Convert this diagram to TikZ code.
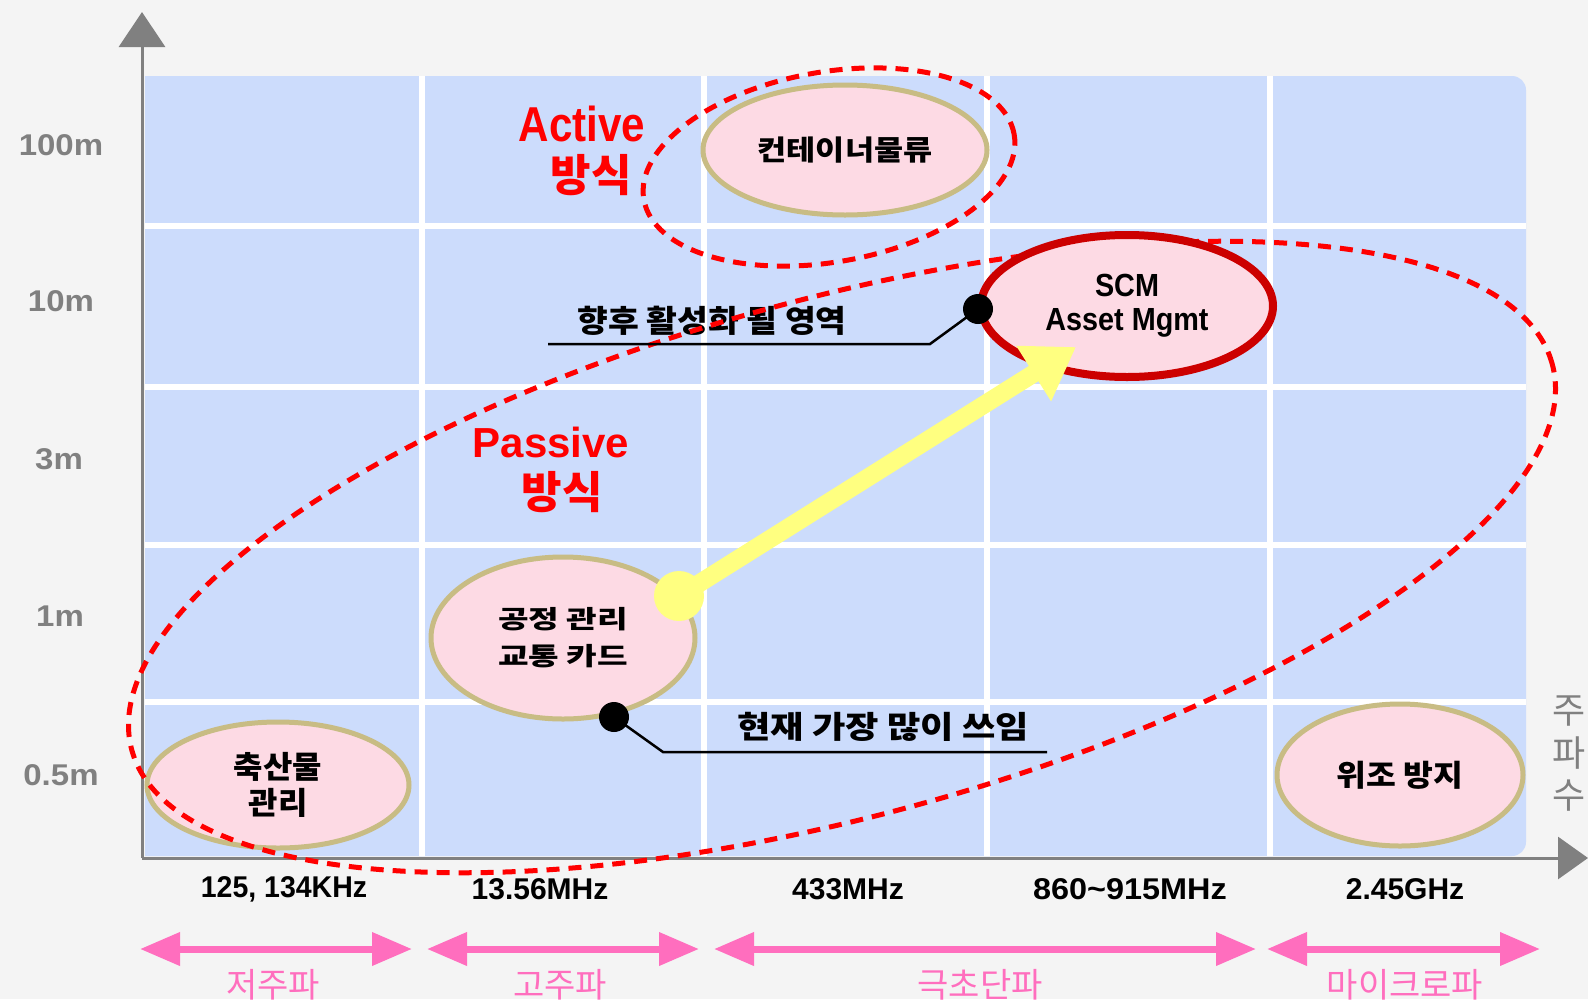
\documentclass[tikz,border=0pt]{standalone}
\usepackage{graphicx}
\usepackage{fontspec}
\setmainfont{Liberation Sans}
\newfontfamily\kr{Noto Sans CJK KR}
\usetikzlibrary{shapes.geometric,arrows.meta}
\definecolor{bg}{HTML}{F4F4F4}
\definecolor{panelblue}{HTML}{CCDCFC}
\definecolor{pinkfill}{HTML}{FDDAE4}
\definecolor{tanline}{HTML}{C8BC84}
\definecolor{scmred}{HTML}{CC0000}
\definecolor{dashred}{HTML}{FF0000}
\definecolor{axisgray}{HTML}{808080}
\definecolor{bandpink}{HTML}{FF6EBE}
\definecolor{yel}{HTML}{FFFF80}
\newcommand{\hs}[2]{\scalebox{#1}[1]{#2}}
\tikzset{
  pinkell/.style={ellipse, draw=tanline, fill=pinkfill, line width=5pt, inner sep=0pt, align=center},
  dashell/.style={ellipse, draw=dashred, line width=5pt, dash pattern=on 13pt off 9pt, inner sep=0pt},
  gridline/.style={white, line width=6pt},
  axisline/.style={axisgray, line width=3pt},
  ylab/.style={text=axisgray, font=\bfseries\fontsize{30}{36}\selectfont, inner sep=0pt},
  xlab/.style={text=black, font=\bfseries\fontsize{30}{36}\selectfont, inner sep=0pt},
  bandarrow/.style={bandpink, line width=7pt, {Triangle[length=40pt,width=32pt]}-{Triangle[length=40pt,width=32pt]}},
  bandlab/.style={text=bandpink, font=\kr\fontsize{34}{40}\selectfont, inner sep=0pt},
  redlab/.style={text=dashred, inner sep=0pt},
  callout/.style={black, line width=2.5pt},
  calltext/.style={text=black, font=\kr\bfseries\fontsize{31}{36}\selectfont, inner sep=0pt},
  dot/.style={circle, fill=black, minimum size=30pt, inner sep=0pt}
}
\begin{document}
\begin{tikzpicture}[x=1pt,y=-1pt]
\useasboundingbox (0,0) rectangle (1588,999);
\fill[bg] (0,0) rectangle (1588,999);
% panel
\fill[panelblue] (145,856) -- (145,76) -- (1400,76) [rounded corners=14pt] -- (1526,76) -- (1526,856) [sharp corners] -- (1400,856) -- cycle;
% grid
\foreach \gx in {422,704,987,1270} \draw[gridline] (\gx,76) -- (\gx,856);
\foreach \gy in {226,387,545,702} \draw[gridline] (145,\gy) -- (1526,\gy);
% axes
\coordinate (origin) at (142,858);
\coordinate (ytip) at (142,12);
\coordinate (xtip) at (1588,858);
\draw[axisline, -{Triangle[length=35pt,width=46pt]}] (origin) -- (ytip);
\draw[axisline, -{Triangle[length=30pt,width=42pt]}] (origin) -- (xtip);
% y labels
\node[ylab] (y100) at (61,145) {\hs{1.1}{100m}};
\node[ylab] (y10) at (61,301) {\hs{1.1}{10m}};
\node[ylab] (y3) at (59,459) {\hs{1.1}{3m}};
\node[ylab] (y1) at (60,616) {\hs{1.1}{1m}};
\node[ylab] (y05) at (61,775) {\hs{1.1}{0.5m}};
% axis title
\node[text=axisgray, font=\kr\fontsize{36}{42.5}\selectfont, align=center, inner sep=0pt] (ftitle) at (1569,754) {주\\파\\수};
% x labels
\node[xlab] (x1) at (284,889) {\hs{0.95}{125, 134KHz}};
\node[xlab] (x2) at (540,889) {13.56MHz};
\node[xlab] (x3) at (848,889) {433MHz};
\node[xlab] (x4) at (1130,889) {\hs{1.08}{860\char`~915MHz}};
\node[xlab] (x5) at (1405,889) {2.45GHz};
% band arrows
\coordinate (b1l) at (140,949); \coordinate (b1r) at (412,949);
\coordinate (b2l) at (427,949); \coordinate (b2r) at (699,949);
\coordinate (b3l) at (714,949); \coordinate (b3r) at (1256,949);
\coordinate (b4l) at (1267,949); \coordinate (b4r) at (1540,949);
\draw[bandarrow] (b1l) -- (b1r);
\draw[bandarrow] (b2l) -- (b2r);
\draw[bandarrow] (b3l) -- (b3r);
\draw[bandarrow] (b4l) -- (b4r);
\node[bandlab] (l1) at (273,985) {저주파};
\node[bandlab] (l2) at (560,985) {고주파};
\node[bandlab] (l3) at (980,985) {극초단파};
\node[bandlab] (l4) at (1405,985) {마이크로파};
% pink ellipses
\node[pinkell, minimum width=284pt, minimum height=130pt, font=\kr\bfseries\fontsize{28}{34}\selectfont] (cont) at (845,150) {\hs{1.13}{컨테이너물류}};
\node[pinkell, minimum width=264pt, minimum height=162pt, font=\kr\bfseries\fontsize{25}{37}\selectfont] (proc) at (563,638) {\hs{1.33}{공정 관리}\\\hs{1.33}{교통 카드}};
\node[pinkell, minimum width=262pt, minimum height=126pt, font=\kr\bfseries\fontsize{31}{36}\selectfont] (live) at (278,785) {\hs{1.03}{축산물}\\\hs{1.03}{관리}};
\node[pinkell, minimum width=246pt, minimum height=142pt, font=\kr\bfseries\fontsize{30}{36}\selectfont] (anti) at (1400,775) {\hs{1.08}{위조 방지}};
% callout texts
\node[calltext] (t1) at (712,321) {\hs{1.08}{향후 활성화 될 영역}};
\node[calltext] (t2) at (883,727) {\hs{1.17}{현재 가장 많이 쓰임}};
% dashed regions
\node[dashell, minimum width=376pt, minimum height=190pt, rotate=10] (act) at (829,167) {};
\node[dashell, minimum width=1472pt, minimum height=518pt, rotate=15.2] (pas) at (842,557) {};
% SCM ellipse
\node[pinkell, draw=scmred, line width=8pt, minimum width=292pt, minimum height=142pt, font=\bfseries\fontsize{32}{34}\selectfont] (scm) at (1127,306) {\hs{0.9}{SCM}\\\hs{0.9}{Asset Mgmt}};
% red labels
\node[redlab, font=\bfseries\fontsize{49}{50}\selectfont] (actt) at (582,124) {\hs{0.86}{Active}};
\node[redlab, font=\kr\bfseries\fontsize{44}{50}\selectfont] (actk) at (591,175) {방식};
\node[redlab, font=\bfseries\fontsize{42}{50}\selectfont] (past) at (551,442) {Passive};
\node[redlab, font=\kr\bfseries\fontsize{44}{50}\selectfont] (pask) at (562,492) {방식};
% callout lines
\node[dot] (d1) at (978,309) {};
\node[dot] (d2) at (614,717) {};
\coordinate (c1a) at (930,344); \coordinate (c1b) at (548,344);
\coordinate (c2a) at (663,752); \coordinate (c2b) at (1047,752);
\draw[callout] (d1.center) -- (c1a) -- (c1b);
\draw[callout] (d2.center) -- (c2a) -- (c2b);
% yellow arrow
\node[circle, fill=yel, minimum size=50pt, inner sep=0pt] (ys) at (679,596) {};
\coordinate (yt) at (1076,347);
\draw[yel, line width=18pt, -{Triangle[length=50pt,width=62pt]}] (ys.center) -- (yt);
\end{tikzpicture}
\end{document}
